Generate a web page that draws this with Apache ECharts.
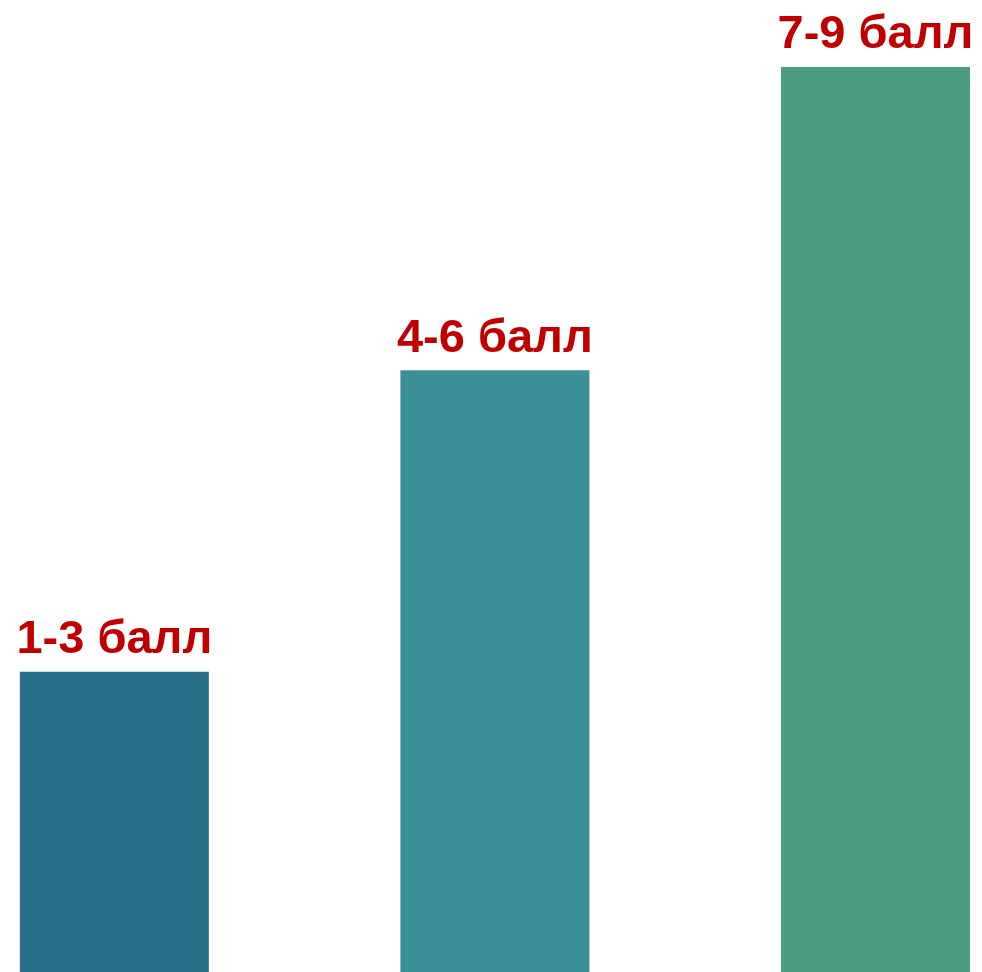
<!DOCTYPE html>
<html>
<head>
<meta charset="utf-8">
<style>
html,body{margin:0;padding:0;background:#fff;}
#chart{width:982px;height:972px;}
</style>
<script src="https://cdn.jsdelivr.net/npm/echarts@6/dist/echarts.min.js"></script>
</head>
<body>
<div id="chart"></div>
<script>
const categories = ['1-3 балл', '4-6 балл', '7-9 балл'];
const values = [0.995, 1.995, 3];
const colors = ['#286F8A', '#3B8F97', '#4C9C80'];

const chart = echarts.init(document.getElementById('chart'));
chart.setOption({
  animation: false,
  grid: { left: 0, right: 0, top: 67, bottom: 0, containLabel: false },
  xAxis: {
    type: 'value',
    min: -0.3005,
    max: 2.28,
    show: false
  },
  yAxis: { type: 'value', min: 0, max: 3, show: false },
  series: [{
    type: 'bar',
    barWidth: 189,
    data: values.map((v, i) => ({ value: [i, v], itemStyle: { color: colors[i] } })),
    label: {
      show: true,
      position: 'top',
      distance: 8,
      formatter: p => categories[p.dataIndex],
      color: '#C00000',
      fontFamily: 'Liberation Sans, Arial, sans-serif',
      fontWeight: 'bold',
      fontSize: 47
    }
  }]
});
</script>
</body>
</html>
